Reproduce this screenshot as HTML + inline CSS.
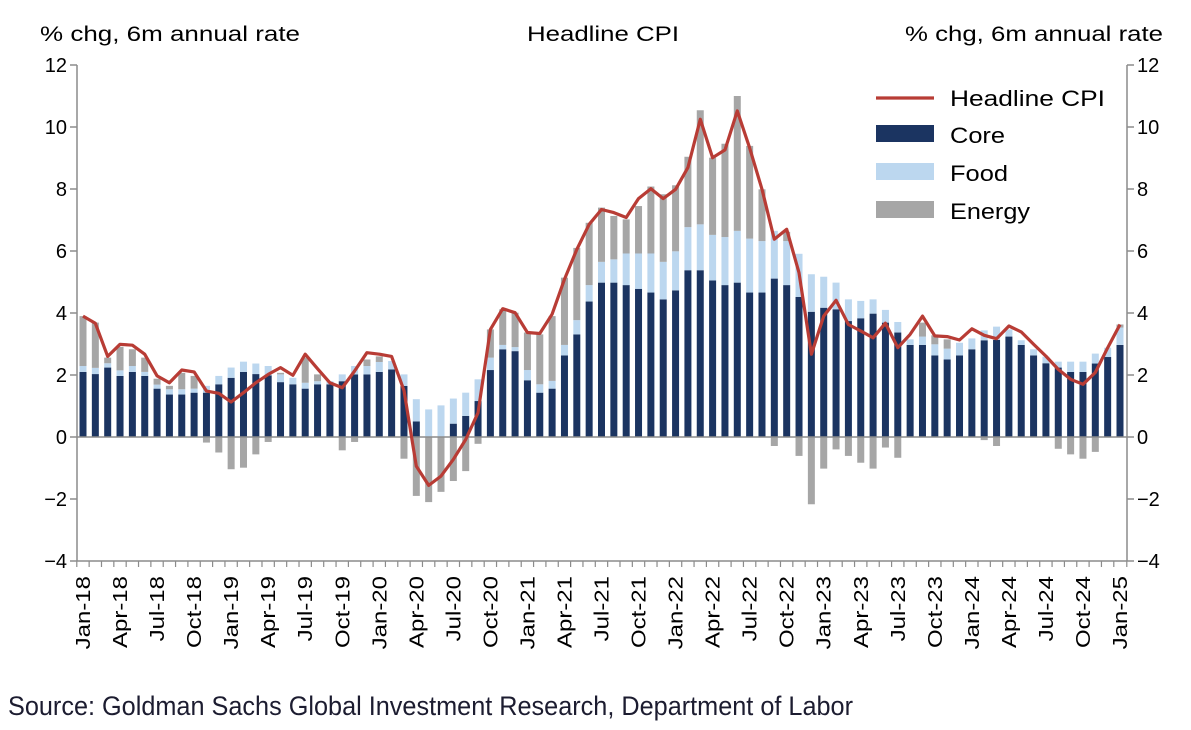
<!DOCTYPE html>
<html><head><meta charset="utf-8"><style>
body{margin:0;background:#fff;width:1191px;height:730px;overflow:hidden;font-family:"Liberation Sans",sans-serif}
svg{display:block}
</style></head><body>
<svg id="c" width="1191" height="730" xmlns="http://www.w3.org/2000/svg"></svg>
<script>
const months=["Jan","Feb","Mar","Apr","May","Jun","Jul","Aug","Sep","Oct","Nov","Dec"];
const core=[2.1,2.03,2.24,1.97,2.1,1.97,1.56,1.37,1.37,1.43,1.43,1.7,1.91,2.1,2.03,1.99,1.77,1.7,1.56,1.7,1.7,1.8,2.02,2.02,2.1,2.18,1.65,0.5,0,0,0.43,0.68,1.16,2.16,2.83,2.77,1.83,1.43,1.56,2.63,3.31,4.37,4.98,4.98,4.9,4.78,4.66,4.44,4.73,5.38,5.38,5.05,4.9,4.98,4.66,4.66,5.11,4.9,4.52,4.04,4.17,4.12,3.74,3.83,3.98,3.69,3.37,2.97,2.97,2.63,2.5,2.63,2.83,3.12,3.13,3.24,2.97,2.63,2.38,2.24,2.1,2.1,2.37,2.58,2.97];
const food=[0.19,0.2,0.14,0.18,0.19,0.13,0.13,0.17,0.17,0.13,0.22,0.27,0.33,0.33,0.34,0.3,0.25,0.21,0.19,0.1,0.1,0.22,0.27,0.27,0.32,0.27,0.37,0.72,0.89,1.02,0.81,0.75,0.7,0.4,0.14,0.13,0.33,0.27,0.25,0.34,0.46,0.53,0.67,0.75,1.02,1.14,1.26,1.21,1.26,1.39,1.48,1.47,1.55,1.67,1.74,1.66,1.54,1.42,1.39,1.21,1.0,0.86,0.7,0.56,0.46,0.41,0.34,0.18,0.27,0.36,0.35,0.41,0.35,0.32,0.43,0.23,0.15,0.2,0.21,0.19,0.33,0.33,0.32,0.3,0.56];
const energy=[1.61,1.46,0.18,0.76,0.54,0.46,0.19,0.11,0.53,0.41,-0.18,-0.5,-1.04,-0.99,-0.56,-0.16,0.05,0,0.81,0.22,0,-0.43,-0.16,0.21,0.18,0,-0.7,-1.9,-2.1,-1.77,-1.42,-1.1,-0.22,0.91,1.15,1.11,1.21,1.61,2.09,2.17,2.33,2.01,1.75,1.4,1.1,1.53,2.16,2.18,2.13,2.27,3.68,2.49,3.01,4.35,2.99,1.67,-0.29,0.3,-0.61,-2.17,-1.02,-0.4,-0.61,-0.83,-1.02,-0.34,-0.67,0,0.45,0.29,0.3,0,0,-0.1,-0.29,0,0,0,0,-0.38,-0.56,-0.7,-0.48,0,0.1];
const headline=[3.9,3.67,2.6,2.99,2.96,2.67,1.97,1.75,2.16,2.1,1.48,1.41,1.13,1.43,1.75,2.02,2.24,1.99,2.67,2.2,1.75,1.59,2.13,2.72,2.67,2.6,1.5,-0.94,-1.56,-1.26,-0.72,-0.08,0.78,3.47,4.14,4.01,3.37,3.34,3.96,5.09,6.05,6.86,7.34,7.24,7.08,7.69,8.01,7.69,7.99,8.69,10.25,9.01,9.26,10.52,9.33,7.99,6.38,6.7,5.3,2.67,3.9,4.41,3.63,3.42,3.2,3.67,2.88,3.31,3.9,3.26,3.24,3.13,3.49,3.28,3.17,3.58,3.39,2.99,2.61,2.18,1.86,1.7,2.08,2.88,3.63];
const yTicks=[12,10,8,6,4,2,0,-2,-4];

const svg=document.getElementById('c');
const NS="http://www.w3.org/2000/svg";
const X0=83,X1=1120,Y12=65,Y4=561,L=77,R=1127;
const x=i=>X0+(X1-X0)*i/(core.length-1);
const y=v=>Y12+(12-v)*(Y4-Y12)/16;
function mk(t,a,txt){const e=document.createElementNS(NS,t);for(const k in a)e.setAttribute(k,a[k]);if(txt!==undefined)e.textContent=txt;svg.appendChild(e);return e;}
const bw=7;
for(let i=0;i<core.length;i++){
  let e=mk('rect',{x:x(i)-bw/2,y:y(core[i]),width:bw,height:y(0)-y(core[i]),fill:'#1b3461'});
  
  
  let ft=core[i]+food[i];
  e=mk('rect',{x:x(i)-bw/2,y:y(ft),width:bw,height:y(core[i])-y(ft),fill:'#bcd7ef'});
  
  
  if(energy[i]>0){
    e=mk('rect',{x:x(i)-bw/2,y:y(ft+energy[i]),width:bw,height:y(ft)-y(ft+energy[i]),fill:'#a6a6a6'});
  }else{
    e=mk('rect',{x:x(i)-bw/2,y:y(0),width:bw,height:y(energy[i])-y(0),fill:'#a6a6a6'});
  }
  
  
}
let z=mk('line',{x1:L,x2:R,y1:y(0),y2:y(0),stroke:'#8c8c8c','stroke-width':1.5});


let pts=headline.map((v,i)=>x(i).toFixed(1)+','+y(v).toFixed(1)).join(' ');
let pl=mk('polyline',{points:pts,fill:'none',stroke:'#b83c35','stroke-width':3.2,'stroke-linejoin':'round'});


for(const ax of [L,R]){
  let a=mk('line',{x1:ax,x2:ax,y1:Y12,y2:Y4,stroke:'#8c8c8c','stroke-width':1.5});
  
  
}
let xa=mk('line',{x1:L,x2:R,y1:Y4,y2:Y4,stroke:'#8c8c8c','stroke-width':1.5});


for(const v of yTicks){
  mk('line',{x1:L-7,x2:L,y1:y(v),y2:y(v),stroke:'#8c8c8c','stroke-width':1.5});
  mk('line',{x1:R,x2:R+7,y1:y(v),y2:y(v),stroke:'#8c8c8c','stroke-width':1.5});
  let t=mk('text',{x:L-10,y:y(v)+7,'text-anchor':'end','font-size':20,fill:'#000'},(v<0?'\u2212'+(-v):v));
  
  
  t=mk('text',{x:R+10,y:y(v)+7,'text-anchor':'start','font-size':20,fill:'#000'},(v<0?'\u2212'+(-v):v));
  
  
}
for(let i=0;i<core.length;i++){
  mk('line',{x1:x(i)-6.2,x2:x(i)-6.2,y1:Y4,y2:Y4+6,stroke:'#8c8c8c','stroke-width':1.2});
  if(i%3===0){
    const lab=months[i%12]+'-'+(18+Math.floor(i/12));
    let t=mk('text',{x:0,y:0,'text-anchor':'end','font-size':20,fill:'#000',transform:`translate(${x(i)+7},576) rotate(-90) scale(1.2,1)`},lab);
    
    
  }
}
mk('line',{x1:R-0.2,x2:R-0.2,y1:Y4,y2:Y4+6,stroke:'#8c8c8c','stroke-width':1.2});
</script>
<svg width="1191" height="730" style="position:absolute;left:0;top:0" xmlns="http://www.w3.org/2000/svg">
<g font-family="Liberation Sans" font-size="21">
<text x="40" y="41" textLength="260" lengthAdjust="spacingAndGlyphs">% chg, 6m annual rate</text>
<text x="527" y="41" textLength="152" lengthAdjust="spacingAndGlyphs">Headline CPI</text>
<text x="905" y="41" textLength="258" lengthAdjust="spacingAndGlyphs">% chg, 6m annual rate</text>
</g>
<g font-family="Liberation Sans" font-size="22">
<line x1="876" x2="934" y1="98" y2="98" stroke="#b83c35" stroke-width="3.2"/>
<text x="950" y="106" textLength="155" lengthAdjust="spacingAndGlyphs">Headline CPI</text>
<rect x="876" y="125" width="58" height="17" fill="#1b3461"/>
<text x="950" y="143" textLength="55" lengthAdjust="spacingAndGlyphs">Core</text>
<rect x="876" y="163" width="58" height="17" fill="#bcd7ef"/>
<text x="950" y="181" textLength="58" lengthAdjust="spacingAndGlyphs">Food</text>
<rect x="876" y="201" width="58" height="17" fill="#a6a6a6"/>
<text x="950" y="219" textLength="80" lengthAdjust="spacingAndGlyphs">Energy</text>
</g>
<text x="8" y="715" font-size="27" fill="#1c1c30" font-family="'Liberation Sans Narrow','Liberation Sans',sans-serif" textLength="845" lengthAdjust="spacingAndGlyphs">Source: Goldman Sachs Global Investment Research, Department of Labor</text>
</svg>
</body></html>
